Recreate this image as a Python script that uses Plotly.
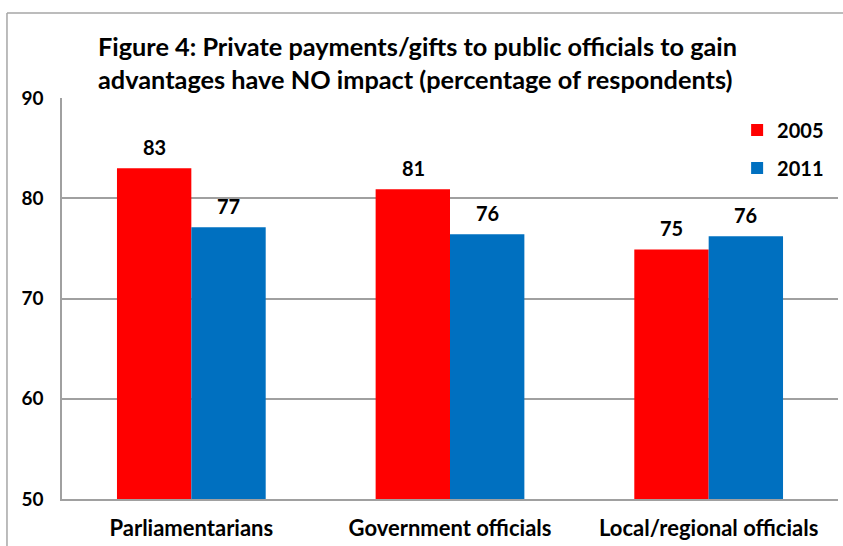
import plotly.graph_objects as go

categories = ["Parliamentarians", "Government officials", "Local/regional officials"]
series_names = ["2005", "2011"]
values_2005 = [83.0, 80.9, 74.9]
values_2011 = [77.1, 76.4, 76.2]
labels_2005 = ["83", "81", "75"]
labels_2011 = ["77", "76", "76"]
y_ticks = [50, 60, 70, 80, 90]

colors = ["#FF0000", "#0070C0"]
FONT = "Lato"

fig = go.Figure()
legend_ids = ["legend", "legend2"]
for name, vals, col, lg in zip(series_names, [values_2005, values_2011], colors, legend_ids):
    fig.add_trace(go.Bar(
        x=categories, y=vals, name=name, legend=lg,
        marker=dict(color=col, line=dict(width=0)),
    ))

# data labels above bars
for vals, labs, shift in zip([values_2005, values_2011], [labels_2005, labels_2011], [-37, 37]):
    for c, v, t in zip(categories, vals, labs):
        fig.add_annotation(x=c, y=v, text=t, showarrow=False, xref="x", yref="y",
                           xshift=shift, yshift=21, yanchor="middle",
                           font=dict(family=FONT, size=20, color="#000000", weight="bold"))

# outer chart border
fig.add_shape(type="line", xref="paper", yref="paper",
              x0=-0.0709, x1=-0.0709, y0=-0.3, y1=1.212,
              line=dict(color="#A6A6A6", width=1.5))
fig.add_shape(type="line", xref="paper", yref="paper",
              x0=-0.0709, x1=1.2, y0=1.212, y1=1.212,
              line=dict(color="#A6A6A6", width=1.5))

leg_common = dict(xanchor="left", yanchor="middle", bgcolor="rgba(0,0,0,0)",
                  itemwidth=30, font=dict(family=FONT, size=20, color="#000000", weight="bold"))

fig.update_layout(
    width=843, height=546,
    margin=dict(l=62, r=5, t=98, b=47),
    paper_bgcolor="white", plot_bgcolor="white",
    barmode="group", bargap=0.425, bargroupgap=0,
    title=dict(
        text="Figure 4: Private payments/gifts to public officials to gain<br>advantages have NO impact (percentage of respondents)",
        x=98 / 843, xanchor="left", xref="container",
        y=1 - 56 / 546, yanchor="top", yref="container",
        font=dict(family=FONT, size=25.3, color="#000000", weight="bold"),
    ),
    font=dict(family=FONT, color="#000000"),
    legend=dict(x=0.87, y=1 - (130 - 98) / 401, **leg_common),
    legend2=dict(x=0.87, y=1 - (168 - 98) / 401, **leg_common),
    xaxis=dict(showline=True, linecolor="#A0A0A0", linewidth=1.5, ticks="",
               tickfont=dict(family=FONT, size=22, color="#000000", weight="bold"),
               ticklabelstandoff=9),
    yaxis=dict(range=[50, 90], tickvals=y_ticks, showgrid=True, gridcolor="#A0A0A0",
               gridwidth=1.5, showline=True, linecolor="#A0A0A0", linewidth=1.5,
               zeroline=False, ticks="",
               tickfont=dict(family=FONT, size=19, color="#000000", weight="bold"),
               ticklabelstandoff=13),
    showlegend=True,
)

fig.write_html("out.html")
